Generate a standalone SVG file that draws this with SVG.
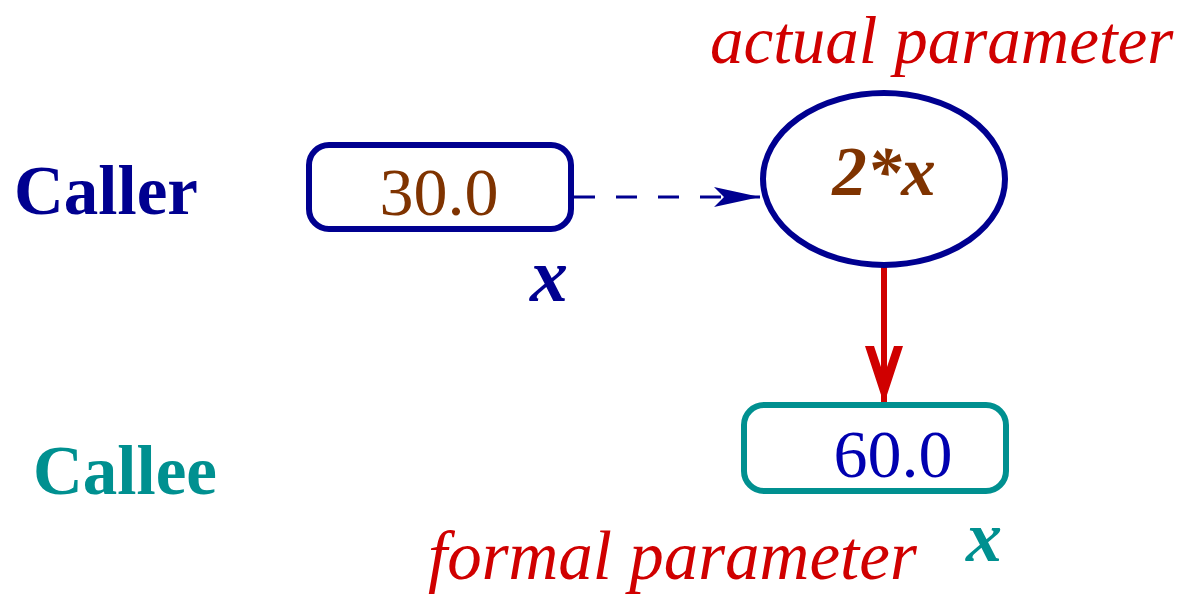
<svg xmlns="http://www.w3.org/2000/svg" width="1180" height="596" viewBox="0 0 1180 596">
<style>
text{font-family:"Liberation Serif","Times New Roman",serif}
.lbl{font-weight:bold;font-size:69px}
.it{font-style:italic;font-size:69px;fill:#d00000}
.num{font-size:68px;text-anchor:middle}
.bx{font-weight:bold;font-style:italic;font-size:76px}
</style>
<defs>
<marker id="ah1" viewBox="0 0 48 24" refX="46" refY="12" markerWidth="48" markerHeight="24" markerUnits="userSpaceOnUse" orient="auto">
<path d="M0,2 L46,12 L0,22 L10,12 Z" fill="#000090"/>
</marker>
<marker id="ah2" viewBox="0 0 60 40" refX="58" refY="20" markerWidth="60" markerHeight="40" markerUnits="userSpaceOnUse" orient="auto">
<path d="M0,1 L58,20 L0,39 L0,30 L30,20 L0,10 Z" fill="#d00000"/>
</marker>
</defs>
<rect width="1180" height="596" fill="#fff"/>
<text class="lbl" x="14" y="214" fill="#000090">Caller</text>
<text class="lbl" x="33" y="494" fill="#009090">Callee</text>
<g id="connectors">
<line x1="574" y1="197" x2="760" y2="197" stroke="#000090" stroke-width="3" stroke-dasharray="21,21" marker-end="url(#ah1)"/>
<line x1="884" y1="266" x2="884" y2="404" stroke="#d00000" stroke-width="6" marker-end="url(#ah2)"/>
</g>
<g id="caller-x">
<rect x="309" y="145" width="262" height="84" rx="20" fill="none" stroke="#000090" stroke-width="6"/>
<text class="num" x="439" y="215" fill="#7f3300">30.0</text>
<text class="bx" x="530" y="301" fill="#000090">x</text>
</g>
<g id="actual">
<ellipse cx="884" cy="179" rx="121" ry="86" fill="none" stroke="#000090" stroke-width="6"/>
<text class="bx" x="884" y="195" text-anchor="middle" fill="#7f3300" style="font-size:69px">2*x</text>
<text class="it" x="710" y="63" style="font-size:67px">actual parameter</text>
</g>
<g id="callee-x">
<rect x="744" y="405" width="262" height="86" rx="20" fill="none" stroke="#009090" stroke-width="6"/>
<text class="num" x="893" y="477" fill="#0000b0">60.0</text>
<text class="bx" x="966" y="561" fill="#009090" style="font-size:72px">x</text>
<text class="it" x="428" y="579">formal parameter</text>
</g>
</svg>
